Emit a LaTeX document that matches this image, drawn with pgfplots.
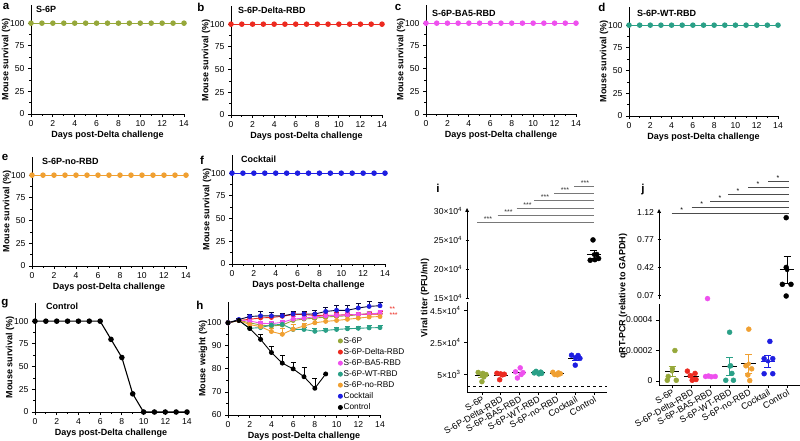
\documentclass[border=0pt]{standalone}
\usepackage{fontspec}
\setmainfont{Liberation Sans}
\usepackage{pgfplots}
\pgfplotsset{compat=1.18}
\usepackage{pgfplotstable}

\definecolor{cs6p}{RGB}{150,168,58}
\definecolor{cdel}{RGB}{236,42,32}
\definecolor{cba5}{RGB}{238,80,238}
\definecolor{cwt}{RGB}{42,160,135}
\definecolor{cno}{RGB}{240,160,50}
\definecolor{ccock}{RGB}{30,30,225}
\definecolor{sigc}{RGB}{120,120,120}

\newcommand{\tickf}{\fontsize{8.6}{9}\selectfont}
\newcommand{\labf}{\bfseries\fontsize{9}{10}\selectfont}
\newcommand{\panf}{\bfseries\fontsize{11.5}{12}\selectfont}
\newcommand{\starf}{\fontsize{7}{7}\selectfont}

% survival, days 0-14
\pgfplotstableread{
day surv
0 100
1 100
2 100
3 100
4 100
5 100
6 100
7 100
8 100
9 100
10 100
11 100
12 100
13 100
14 100
}\flat
\pgfplotstableread{
day surv
0 100
1 100
2 100
3 100
4 100
5 100
6 100
7 80
8 60
9 20
10 0
11 0
12 0
13 0
14 0
}\ctrl
% body weight (mean, upper SEM)
\pgfplotstableread{
day s6p s6pe del dele ba5 ba5e wt wte no noe cock cocke
0 100 0 100 0 100 0 100 0 100 0 100 0
1 101 0.3 101 0.3 101 0.3 101 0.3 101 0.3 101.4 0.4
2 100 1 101.5 0.8 100.8 1 97.6 0.8 99.2 1 102.7 0.8
3 99 1 102.1 1 99.8 1 97.9 1 98.3 1 103 1.8
4 98.6 1 102.3 1 99.6 1.2 99 1 96.2 1.5 103 1.5
5 99 1 102.8 1 100.2 1 99.3 1 95 2.4 103 1.2
6 101 1 103.6 1 101.6 1 97.1 2 97.2 2 103.8 1.2
7 101.6 1 103.6 1 102 1 97.1 1 98.6 1 103.8 1.2
8 102 1 103.2 1 102.6 1 96.3 1.2 100 1.5 103.8 1.5
9 102.5 1 103.2 1 103 1 96.7 1 100.6 1.5 104.9 1.8
10 102.8 1 103.3 1 103.2 1 97.1 1 101 1.5 105.4 2
11 103 1 103.5 1 103.4 1 97.4 1 101.5 1.5 105.4 2
12 103.5 1 103.6 1 103.6 1 97.6 1 102 1.5 106.4 2
13 104 1 103.7 1 103.8 1 97.8 1 102.5 1.5 107.1 2
14 104 1 103.8 1 104.2 1 97.9 1 102.7 1.5 107.4 1.5
}\weight

\pgfplotsset{
  every axis/.append style={
    scale only axis, clip=false,
    axis lines=left, axis line style={-, line width=0.8pt},
    tick align=outside, tick style={black, line width=0.8pt},
    major tick length=3pt, minor tick length=1.8pt,
    tick label style={font=\tickf},
    label style={font=\labf},
    /pgf/number format/assume math mode=true,
  },
  surv/.style={
    height=109pt, xmin=0, xmax=14, ymin=0, ymax=120,
    xtick={0,2,...,14}, ytick={0,25,...,100},
    minor x tick num=1, minor y tick num=1,
    xlabel={Days post-Delta challenge}, ylabel={Mouse survival (\%)},
    xlabel style={yshift=3pt}, ylabel style={yshift=-7pt},
  },
  sline/.style={line width=1.1pt, mark=*, mark size=2.2pt},
  wline/.style={line width=0.9pt, mark=*, mark size=2pt,
    error bars/y dir=plus, error bars/y explicit,
    error bars/error bar style={line width=0.7pt},
    error bars/error mark options={rotate=90, mark size=2.5pt, line width=0.7pt}},
  cat/.style={
    xtick={0,...,6},
    xticklabels={S-6P,S-6P-Delta-RBD,S-6P-BA5-RBD,S-6P-WT-RBD,S-6P-no-RBD,Cocktail,Control},
    x tick label style={rotate=30, anchor=north east, inner sep=0.5pt, font=\fontsize{9}{9.5}\selectfont},
    scaled y ticks=false,
  },
  upper/.style={axis x line=none, axis y line=left, xtick=\empty, scaled y ticks=false},
  dots/.style={only marks, mark=*, mark size=2.5pt},
  meanl/.style={black, line width=1pt},
  semb/.style={only marks, mark=none, error bars/y dir=both, error bars/y explicit,
    error bars/error bar style={line width=0.8pt},
    error bars/error mark options={rotate=90, mark size=3.5pt, line width=0.8pt}},
}

\begin{document}
\begin{tikzpicture}[x=1pt,y=1pt]
\useasboundingbox (0,0) rectangle (800,-441);

% ---------- survival panels ----------
\begin{axis}[surv, at={(31pt,-114pt)}, width=153pt]
\addplot[sline, cs6p] table[x=day,y=surv] {\flat};
\end{axis}
\begin{axis}[surv, at={(231pt,-115pt)}, width=151pt]
\addplot[sline, cdel] table[x=day,y=surv] {\flat};
\end{axis}
\begin{axis}[surv, at={(426pt,-114pt)}, width=150pt]
\addplot[sline, cba5] table[x=day,y=surv] {\flat};
\end{axis}
\begin{axis}[surv, at={(629pt,-116pt)}, width=149pt]
\addplot[sline, cwt] table[x=day,y=surv] {\flat};
\end{axis}
\begin{axis}[surv, at={(32pt,-266pt)}, width=154pt]
\addplot[sline, cno] table[x=day,y=surv] {\flat};
\end{axis}
\begin{axis}[surv, at={(232pt,-264pt)}, width=153pt]
\addplot[sline, ccock] table[x=day,y=surv] {\flat};
\end{axis}
\begin{axis}[surv, at={(35pt,-412pt)}, width=152pt]
\addplot[sline, black] table[x=day,y=surv] {\ctrl};
\end{axis}

% ---------- body weight ----------
\begin{axis}[at={(228pt,-415pt)}, width=152pt, height=113pt,
  xmin=0, xmax=14, ymin=60, ymax=109,
  xtick={0,2,...,14}, ytick={60,70,...,100},
  minor x tick num=1, minor y tick num=1,
  xlabel={Days post-Delta challenge}, ylabel={Mouse weight (\%)},
  xlabel style={yshift=3pt}, ylabel style={yshift=-7pt},
  legend style={at={(axis cs:10.15,94.3)}, anchor=north west, draw=none, fill=none,
    font=\fontsize{8.3}{9}\selectfont, row sep=1.3pt, inner sep=0pt,
    nodes={inner sep=1.2pt}},
  legend cell align=left,
  legend image code/.code={\draw[#1] plot coordinates {(0.12cm,0cm)};},
]
\addplot[wline, cs6p] table[x=day,y=s6p,y error=s6pe] {\weight};
\addlegendentry{S-6P}
\addplot[wline, cdel] table[x=day,y=del,y error=dele] {\weight};
\addlegendentry{S-6P-Delta-RBD}
\addplot[wline, cba5] table[x=day,y=ba5,y error=ba5e] {\weight};
\addlegendentry{S-6P-BA5-RBD}
\addplot[wline, cwt] table[x=day,y=wt,y error=wte] {\weight};
\addlegendentry{S-6P-WT-RBD}
\addplot[wline, cno] table[x=day,y=no,y error=noe] {\weight};
\addlegendentry{S-6P-no-RBD}
\addplot[wline, black!75!ccock, mark options={draw=ccock, fill=ccock}] table[x=day,y=cock,y error=cocke] {\weight};
\addlegendentry{Cocktail}
\addplot[wline, black] coordinates {
  (0,100) +- (0,0) (1,101) +- (0,0.3) (2,97.5) +- (0,0.8) (3,92.8) +- (0,2)
  (4,87.1) +- (0,2.8) (5,82.5) +- (0,3.5) (6,80) +- (0,3) (7,76.6) +- (0,4)
  (8,71.6) +- (0,4.5) (9,77.8) +- (0,0)};
\addlegendentry{Control}
\end{axis}
\node[cdel, font=\starf, anchor=west] at (386,-309) {**};
\node[cdel, font=\starf, anchor=west] at (386,-315) {***};

% ---------- viral titer (i) ----------
\begin{axis}[cat, at={(467pt,-392pt)}, width=140pt, height=90pt,
  xmin=-0.8, xmax=6.7, ymin=-6250, ymax=50600,
  ytick={5000,25000,45000},
  yticklabels={5×10\textsuperscript{3},2.5×10\textsuperscript{4},4.5×10\textsuperscript{4}}]
\addplot[black, dashed, line width=0.6pt] coordinates {(-0.8,-2500) (6.7,-2500)};
\addplot[dots, cs6p] coordinates {(-0.2,6100) (0.05,5500) (0.22,4800) (0.1,3300) (0,300)};
\addplot[dots, cdel] coordinates {(0.8,5600) (1,5200) (1.2,5000) (1.1,4600) (0.95,1500)};
\addplot[dots, cba5] coordinates {(2.05,9000) (1.8,6500) (2.2,6000) (2.1,4800) (1.9,2600)};
\addplot[dots, cwt] coordinates {(2.9,6800) (3.15,6300) (2.8,5800) (3.2,5500) (3.05,5200)};
\addplot[dots, cno] coordinates {(3.8,6200) (4.1,5800) (4.2,5300) (3.9,4800) (4.05,4600)};
\addplot[dots, ccock] coordinates {(4.8,17000) (5.15,16800) (5.05,15600) (5.25,15000) (5,10700)};
\addplot[meanl] coordinates {(-0.38,4000) (0.38,4000)};
\addplot[meanl] coordinates {(0.62,4380) (1.38,4380)};
\addplot[meanl] coordinates {(1.62,5780) (2.38,5780)};
\addplot[meanl] coordinates {(2.62,5920) (3.38,5920)};
\addplot[meanl] coordinates {(3.62,5340) (4.38,5340)};
\addplot[meanl] coordinates {(4.62,15020) (5.38,15020)};
\addplot[semb, cs6p] coordinates {(0,4000) +- (0,1000)};
\addplot[semb, ccock] coordinates {(5,15020) +- (0,1100)};
\end{axis}
\begin{axis}[upper, at={(467pt,-298pt)}, width=140pt, height=90pt,
  xmin=-0.8, xmax=6.7, ymin=150000, ymax=305000,
  ytick={150000,200000,250000,300000},
  yticklabels={15×10\textsuperscript{4},20×10\textsuperscript{4},25×10\textsuperscript{4},30×10\textsuperscript{4}}]
\addplot[dots, black] coordinates {(5.95,250000) (6.15,225000) (6.25,218000) (5.8,215000) (6.05,216000)};
\addplot[meanl] coordinates {(5.62,224800) (6.38,224800)};
\addplot[semb, black] coordinates {(6,224800) +- (0,7000)};
\end{axis}
\node[rotate=90, font=\labf] at (425,-298) {Viral titer (PFU/ml)};
\foreach \xa/\ya in {477/222.3, 497.5/215.3, 516.5/208, 534/200.7, 554/193.3, 574/186}{
  \draw[sigc, line width=0.8pt] (\xa,-\ya) -- (594,-\ya);
  \node[font=\starf, anchor=base, inner sep=0pt, black!80] at (\xa+11,-\ya+0.8) {***};
}

% ---------- qRT-PCR (j) ----------
\begin{axis}[cat, at={(659pt,-385pt)}, width=141pt, height=81pt,
  xmin=-0.68, xmax=6.67, ymin=-0.000026, ymax=0.000505,
  ytick={0,0.0002,0.0004}, yticklabels={0,0.0002,0.0004}]
\addplot[dots, cs6p] coordinates {(0.15,0.0002) (0.02,0.00008) (-0.2,0.00003) (-0.25,0.000005) (0.22,0.000005)};
\addplot[dots, cdel] coordinates {(0.8,0.000065) (0.95,0.000035) (1.2,0.00005) (1.05,0.000005) (1.25,0.00001)};
\addplot[dots, cba5] coordinates {(1.75,0.00003) (1.9,0.000033) (2.05,0.000028) (2.25,0.00003)};
\addplot[dots, cwt] coordinates {(3,0.00032) (3.05,0.0001) (2.8,0.000005) (3.2,0.000005) (3.12,0.00005)};
\addplot[dots, cno] coordinates {(4,0.00034) (3.85,0.0001) (4.15,0.00008) (3.95,0.00004) (4.05,0.000003)};
\addplot[dots, ccock] coordinates {(5.1,0.00026) (4.8,0.000147) (5.25,0.000147) (4.8,0.000048) (5.25,0.000048)};
\addplot[semb, cs6p] coordinates {(0,0.000064) +- (0,0.000035)};
\addplot[semb, cdel] coordinates {(1,0.000033) +- (0,0.00001)};
\addplot[semb, cwt] coordinates {(3,0.000096) +- (0,0.00006)};
\addplot[semb, cno] coordinates {(4,0.000113) +- (0,0.00006)};
\addplot[semb, ccock] coordinates {(5,0.00013) +- (0,0.00004)};
\addplot[meanl] coordinates {(-0.38,0.000064) (0.38,0.000064)};
\addplot[meanl] coordinates {(0.62,0.000033) (1.38,0.000033)};
\addplot[meanl] coordinates {(2.62,0.000096) (3.38,0.000096)};
\addplot[meanl] coordinates {(3.62,0.000113) (4.38,0.000113)};
\addplot[meanl, ccock] coordinates {(4.62,0.00013) (5.38,0.00013)};
\end{axis}
\begin{axis}[upper, at={(659pt,-299pt)}, width=141pt, height=90pt,
  xmin=-0.68, xmax=6.67, ymin=0.02, ymax=1.16,
  ytick={0.07,0.42,0.77,1.12}, yticklabels={0.07,0.42,0.77,1.12}]
\addplot[dots, cba5] coordinates {(1.85,0.025)};
\addplot[dots, black] coordinates {(5.95,1.05) (5.95,0.42) (5.75,0.206) (6.2,0.206) (5.95,0.058)};
\addplot[meanl] coordinates {(5.62,0.388) (6.38,0.388)};
\addplot[semb, black] coordinates {(6,0.388) +- (0,0.17)};
\end{axis}
\node[rotate=90, font=\labf] at (623,-296) {qRT-PCR (relative to GAPDH)};
\foreach \xa/\ya in {671.7/213.7, 691.7/207.7, 710/201, 728/194, 748/187.3, 768/181}{
  \draw[black!70, line width=0.8pt] (\xa,-\ya) -- (789,-\ya);
  \node[font=\starf, anchor=base, inner sep=0pt, black] at (\xa+10,-\ya+0.8) {*};
}

% ---------- panel letters and titles ----------
\node[font=\panf] at (6,-6) {a};
\node[font=\panf] at (201,-7) {b};
\node[font=\panf] at (398,-7) {c};
\node[font=\panf] at (602,-7) {d};
\node[font=\panf] at (5,-157) {e};
\node[font=\panf] at (202,-160) {f};
\node[font=\panf] at (5,-304) {g};
\node[font=\panf] at (200,-305) {h};
\node[font=\panf] at (438,-188) {i};
\node[font=\panf] at (643,-190) {j};
\node[font=\labf, anchor=west, inner sep=0pt] at (36,-9) {S-6P};
\node[font=\labf, anchor=west, inner sep=0pt] at (238,-10.7) {S-6P-Delta-RBD};
\node[font=\labf, anchor=west, inner sep=0pt] at (432,-13) {S-6P-BA5-RBD};
\node[font=\labf, anchor=west, inner sep=0pt] at (637,-13) {S-6P-WT-RBD};
\node[font=\labf, anchor=west, inner sep=0pt] at (42,-161) {S-6P-no-RBD};
\node[font=\labf, anchor=west, inner sep=0pt] at (241,-159.7) {Cocktail};
\node[font=\labf, anchor=west, inner sep=0pt] at (46,-306.3) {Control};
\end{tikzpicture}
\end{document}
